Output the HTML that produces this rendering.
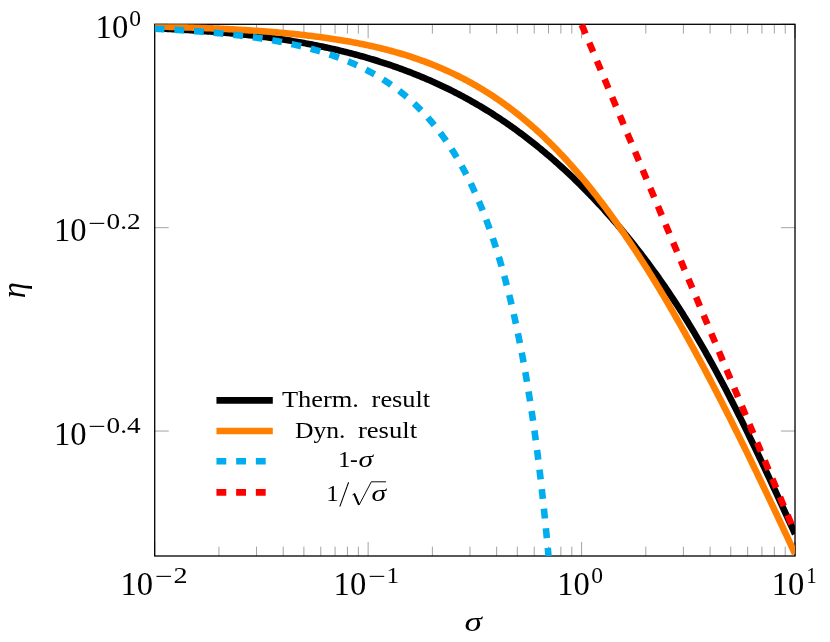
<!DOCTYPE html>
<html><head><meta charset="utf-8"><title>plot</title>
<style>
html,body{margin:0;padding:0;background:#fff;}
body{width:830px;height:642px;overflow:hidden;font-family:"Liberation Serif",serif;}
svg{display:block;will-change:transform;}
text{font-family:"Liberation Serif",serif;fill:#000;}
</style></head><body>
<svg width="830" height="642" viewBox="0 0 830 642">
<defs><clipPath id="c"><rect x="154.7" y="24.3" width="640.30" height="531.70"/></clipPath></defs>
<path d="M154.70,556.00v-14.02M154.70,24.30v14.02M218.95,556.00v-9.34M218.95,24.30v9.34M256.53,556.00v-9.34M256.53,24.30v9.34M283.20,556.00v-9.34M283.20,24.30v9.34M303.88,556.00v-9.34M303.88,24.30v9.34M320.78,556.00v-9.34M320.78,24.30v9.34M335.07,556.00v-9.34M335.07,24.30v9.34M347.45,556.00v-9.34M347.45,24.30v9.34M358.37,556.00v-9.34M358.37,24.30v9.34M368.13,556.00v-14.02M368.13,24.30v14.02M432.38,556.00v-9.34M432.38,24.30v9.34M469.97,556.00v-9.34M469.97,24.30v9.34M496.63,556.00v-9.34M496.63,24.30v9.34M517.32,556.00v-9.34M517.32,24.30v9.34M534.22,556.00v-9.34M534.22,24.30v9.34M548.51,556.00v-9.34M548.51,24.30v9.34M560.88,556.00v-9.34M560.88,24.30v9.34M571.80,556.00v-9.34M571.80,24.30v9.34M581.57,556.00v-14.02M581.57,24.30v14.02M645.82,556.00v-9.34M645.82,24.30v9.34M683.40,556.00v-9.34M683.40,24.30v9.34M710.07,556.00v-9.34M710.07,24.30v9.34M730.75,556.00v-9.34M730.75,24.30v9.34M747.65,556.00v-9.34M747.65,24.30v9.34M761.94,556.00v-9.34M761.94,24.30v9.34M774.32,556.00v-9.34M774.32,24.30v9.34M785.23,556.00v-9.34M785.23,24.30v9.34M795.00,556.00v-14.02M795.00,24.30v14.02M795.00,556.00v-14.02M795.00,24.30v14.02M154.70,24.30h14.02M795.00,24.30h-14.02M154.70,227.67h14.02M795.00,227.67h-14.02M154.70,431.05h14.02M795.00,431.05h-14.02" stroke="#737373" stroke-width="0.66" fill="none"/>
<rect x="154.7" y="24.3" width="640.30" height="531.70" fill="none" stroke="#000" stroke-width="1.31"/>
<g clip-path="url(#c)" fill="none" stroke-linejoin="round">
<path d="M154.70,28.28 L156.30,28.35 L157.91,28.42 L159.51,28.50 L161.12,28.58 L162.72,28.65 L164.33,28.73 L165.93,28.81 L167.54,28.89 L169.14,28.98 L170.75,29.06 L172.35,29.14 L173.96,29.23 L175.56,29.32 L177.17,29.40 L178.77,29.49 L180.38,29.58 L181.98,29.67 L183.59,29.77 L185.19,29.86 L186.80,29.96 L188.40,30.05 L190.00,30.15 L191.61,30.25 L193.21,30.35 L194.82,30.46 L196.42,30.56 L198.03,30.67 L199.63,30.78 L201.24,30.89 L202.84,31.00 L204.45,31.11 L206.05,31.23 L207.66,31.35 L209.26,31.47 L210.87,31.59 L212.47,31.71 L214.08,31.84 L215.68,31.96 L217.29,32.09 L218.89,32.22 L220.50,32.36 L222.10,32.49 L223.70,32.63 L225.31,32.77 L226.91,32.92 L228.52,33.06 L230.12,33.21 L231.73,33.36 L233.33,33.51 L234.94,33.67 L236.54,33.82 L238.15,33.98 L239.75,34.14 L241.36,34.31 L242.96,34.48 L244.57,34.65 L246.17,34.82 L247.78,35.00 L249.38,35.17 L250.99,35.35 L252.59,35.54 L254.20,35.73 L255.80,35.91 L257.40,36.11 L259.01,36.30 L260.61,36.50 L262.22,36.70 L263.82,36.91 L265.43,37.11 L267.03,37.32 L268.64,37.54 L270.24,37.75 L271.85,37.97 L273.45,38.20 L275.06,38.42 L276.66,38.65 L278.27,38.88 L279.87,39.12 L281.48,39.36 L283.08,39.60 L284.69,39.85 L286.29,40.10 L287.90,40.35 L289.50,40.60 L291.10,40.86 L292.71,41.13 L294.31,41.39 L295.92,41.67 L297.52,41.94 L299.13,42.22 L300.73,42.50 L302.34,42.78 L303.94,43.07 L305.55,43.37 L307.15,43.66 L308.76,43.96 L310.36,44.27 L311.97,44.57 L313.57,44.89 L315.18,45.20 L316.78,45.52 L318.39,45.85 L319.99,46.18 L321.60,46.51 L323.20,46.84 L324.80,47.19 L326.41,47.53 L328.01,47.88 L329.62,48.23 L331.22,48.59 L332.83,48.95 L334.43,49.32 L336.04,49.69 L337.64,50.07 L339.25,50.45 L340.85,50.83 L342.46,51.22 L344.06,51.61 L345.67,52.01 L347.27,52.41 L348.88,52.82 L350.48,53.23 L352.09,53.65 L353.69,54.07 L355.30,54.50 L356.90,54.93 L358.50,55.37 L360.11,55.81 L361.71,56.25 L363.32,56.71 L364.92,57.16 L366.53,57.62 L368.13,58.09 L369.74,58.56 L371.34,59.04 L372.95,59.52 L374.55,60.01 L376.16,60.50 L377.76,61.00 L379.37,61.51 L380.97,62.02 L382.58,62.53 L384.18,63.05 L385.79,63.58 L387.39,64.11 L389.00,64.65 L390.60,65.19 L392.20,65.74 L393.81,66.30 L395.41,66.86 L397.02,67.43 L398.62,68.00 L400.23,68.58 L401.83,69.17 L403.44,69.76 L405.04,70.36 L406.65,70.96 L408.25,71.57 L409.86,72.19 L411.46,72.81 L413.07,73.44 L414.67,74.08 L416.28,74.72 L417.88,75.37 L419.49,76.02 L421.09,76.69 L422.70,77.36 L424.30,78.03 L425.90,78.71 L427.51,79.40 L429.11,80.10 L430.72,80.81 L432.32,81.52 L433.93,82.23 L435.53,82.96 L437.14,83.69 L438.74,84.43 L440.35,85.18 L441.95,85.93 L443.56,86.70 L445.16,87.47 L446.77,88.24 L448.37,89.03 L449.98,89.82 L451.58,90.62 L453.19,91.43 L454.79,92.25 L456.40,93.07 L458.00,93.90 L459.60,94.74 L461.21,95.59 L462.81,96.45 L464.42,97.31 L466.02,98.19 L467.63,99.07 L469.23,99.96 L470.84,100.86 L472.44,101.77 L474.05,102.68 L475.65,103.61 L477.26,104.54 L478.86,105.48 L480.47,106.43 L482.07,107.39 L483.68,108.36 L485.28,109.34 L486.89,110.33 L488.49,111.32 L490.10,112.33 L491.70,113.34 L493.30,114.37 L494.91,115.40 L496.51,116.44 L498.12,117.50 L499.72,118.56 L501.33,119.63 L502.93,120.71 L504.54,121.80 L506.14,122.90 L507.75,124.01 L509.35,125.13 L510.96,126.26 L512.56,127.39 L514.17,128.54 L515.77,129.70 L517.38,130.87 L518.98,132.05 L520.59,133.24 L522.19,134.43 L523.80,135.64 L525.40,136.86 L527.00,138.09 L528.61,139.33 L530.21,140.58 L531.82,141.84 L533.42,143.10 L535.03,144.38 L536.63,145.67 L538.24,146.97 L539.84,148.28 L541.45,149.60 L543.05,150.93 L544.66,152.27 L546.26,153.63 L547.87,154.99 L549.47,156.36 L551.08,157.74 L552.68,159.14 L554.29,160.54 L555.89,161.96 L557.50,163.38 L559.10,164.82 L560.70,166.27 L562.31,167.72 L563.91,169.19 L565.52,170.67 L567.12,172.17 L568.73,173.67 L570.33,175.18 L571.94,176.71 L573.54,178.24 L575.15,179.79 L576.75,181.35 L578.36,182.92 L579.96,184.50 L581.57,186.09 L583.17,187.70 L584.78,189.32 L586.38,190.94 L587.99,192.59 L589.59,194.24 L591.20,195.90 L592.80,197.58 L594.40,199.27 L596.01,200.97 L597.61,202.68 L599.22,204.40 L600.82,206.14 L602.43,207.89 L604.03,209.65 L605.64,211.43 L607.24,213.21 L608.85,215.02 L610.45,216.83 L612.06,218.65 L613.66,220.49 L615.27,222.35 L616.87,224.21 L618.48,226.09 L620.08,227.98 L621.69,229.89 L623.29,231.81 L624.90,233.74 L626.50,235.69 L628.10,237.65 L629.71,239.62 L631.31,241.61 L632.92,243.62 L634.52,245.64 L636.13,247.67 L637.73,249.72 L639.34,251.78 L640.94,253.86 L642.55,255.95 L644.15,258.06 L645.76,260.19 L647.36,262.33 L648.97,264.49 L650.57,266.66 L652.18,268.85 L653.78,271.06 L655.39,273.28 L656.99,275.52 L658.60,277.78 L660.20,280.05 L661.80,282.34 L663.41,284.65 L665.01,286.98 L666.62,289.33 L668.22,291.70 L669.83,294.08 L671.43,296.48 L673.04,298.90 L674.64,301.34 L676.25,303.81 L677.85,306.28 L679.46,308.78 L681.06,311.30 L682.67,313.84 L684.27,316.40 L685.88,318.98 L687.48,321.58 L689.09,324.19 L690.69,326.83 L692.30,329.49 L693.90,332.17 L695.50,334.87 L697.11,337.58 L698.71,340.32 L700.32,343.08 L701.92,345.86 L703.53,348.65 L705.13,351.47 L706.74,354.31 L708.34,357.16 L709.95,360.04 L711.55,362.93 L713.16,365.85 L714.76,368.78 L716.37,371.73 L717.97,374.70 L719.58,377.69 L721.18,380.70 L722.79,383.72 L724.39,386.77 L726.00,389.83 L727.60,392.91 L729.20,396.00 L730.81,399.12 L732.41,402.25 L734.02,405.39 L735.62,408.55 L737.23,411.73 L738.83,414.93 L740.44,418.14 L742.04,421.36 L743.65,424.60 L745.25,427.85 L746.86,431.12 L748.46,434.40 L750.07,437.70 L751.67,441.00 L753.28,444.33 L754.88,447.66 L756.49,451.00 L758.09,454.36 L759.70,457.73 L761.30,461.11 L762.90,464.50 L764.51,467.90 L766.11,471.31 L767.72,474.74 L769.32,478.17 L770.93,481.61 L772.53,485.05 L774.14,488.51 L775.74,491.98 L777.35,495.45 L778.95,498.93 L780.56,502.41 L782.16,505.90 L783.77,509.40 L785.37,512.90 L786.98,516.41 L788.58,519.93 L790.19,523.44 L791.79,526.97 L793.40,530.49 L795.00,534.02" stroke="#000" stroke-width="6.57"/>
<path d="M154.70,26.50 L156.30,26.54 L157.91,26.57 L159.51,26.61 L161.12,26.65 L162.72,26.69 L164.33,26.74 L165.93,26.78 L167.54,26.82 L169.14,26.87 L170.75,26.91 L172.35,26.96 L173.96,27.00 L175.56,27.05 L177.17,27.10 L178.77,27.14 L180.38,27.19 L181.98,27.24 L183.59,27.30 L185.19,27.35 L186.80,27.40 L188.40,27.45 L190.00,27.51 L191.61,27.56 L193.21,27.62 L194.82,27.68 L196.42,27.74 L198.03,27.80 L199.63,27.86 L201.24,27.92 L202.84,27.98 L204.45,28.04 L206.05,28.11 L207.66,28.18 L209.26,28.24 L210.87,28.31 L212.47,28.38 L214.08,28.45 L215.68,28.52 L217.29,28.60 L218.89,28.67 L220.50,28.75 L222.10,28.82 L223.70,28.90 L225.31,28.98 L226.91,29.06 L228.52,29.14 L230.12,29.23 L231.73,29.31 L233.33,29.40 L234.94,29.49 L236.54,29.58 L238.15,29.67 L239.75,29.76 L241.36,29.85 L242.96,29.95 L244.57,30.05 L246.17,30.15 L247.78,30.25 L249.38,30.35 L250.99,30.45 L252.59,30.56 L254.20,30.67 L255.80,30.78 L257.40,30.89 L259.01,31.00 L260.61,31.12 L262.22,31.23 L263.82,31.35 L265.43,31.47 L267.03,31.60 L268.64,31.72 L270.24,31.85 L271.85,31.98 L273.45,32.11 L275.06,32.24 L276.66,32.38 L278.27,32.52 L279.87,32.66 L281.48,32.80 L283.08,32.95 L284.69,33.10 L286.29,33.25 L287.90,33.40 L289.50,33.56 L291.10,33.72 L292.71,33.88 L294.31,34.04 L295.92,34.21 L297.52,34.38 L299.13,34.55 L300.73,34.72 L302.34,34.90 L303.94,35.08 L305.55,35.26 L307.15,35.45 L308.76,35.64 L310.36,35.83 L311.97,36.03 L313.57,36.23 L315.18,36.43 L316.78,36.64 L318.39,36.85 L319.99,37.06 L321.60,37.28 L323.20,37.50 L324.80,37.72 L326.41,37.95 L328.01,38.18 L329.62,38.41 L331.22,38.65 L332.83,38.89 L334.43,39.14 L336.04,39.39 L337.64,39.65 L339.25,39.90 L340.85,40.17 L342.46,40.43 L344.06,40.71 L345.67,40.98 L347.27,41.26 L348.88,41.55 L350.48,41.84 L352.09,42.13 L353.69,42.43 L355.30,42.73 L356.90,43.04 L358.50,43.36 L360.11,43.67 L361.71,44.00 L363.32,44.33 L364.92,44.66 L366.53,45.00 L368.13,45.35 L369.74,45.70 L371.34,46.05 L372.95,46.41 L374.55,46.78 L376.16,47.15 L377.76,47.53 L379.37,47.92 L380.97,48.31 L382.58,48.70 L384.18,49.11 L385.79,49.52 L387.39,49.93 L389.00,50.35 L390.60,50.78 L392.20,51.22 L393.81,51.66 L395.41,52.11 L397.02,52.57 L398.62,53.03 L400.23,53.50 L401.83,53.98 L403.44,54.46 L405.04,54.95 L406.65,55.45 L408.25,55.96 L409.86,56.47 L411.46,56.99 L413.07,57.52 L414.67,58.06 L416.28,58.61 L417.88,59.16 L419.49,59.73 L421.09,60.30 L422.70,60.88 L424.30,61.46 L425.90,62.06 L427.51,62.67 L429.11,63.28 L430.72,63.90 L432.32,64.53 L433.93,65.18 L435.53,65.83 L437.14,66.49 L438.74,67.16 L440.35,67.84 L441.95,68.52 L443.56,69.22 L445.16,69.93 L446.77,70.65 L448.37,71.38 L449.98,72.12 L451.58,72.87 L453.19,73.63 L454.79,74.40 L456.40,75.18 L458.00,75.97 L459.60,76.78 L461.21,77.59 L462.81,78.42 L464.42,79.25 L466.02,80.10 L467.63,80.96 L469.23,81.83 L470.84,82.71 L472.44,83.61 L474.05,84.51 L475.65,85.43 L477.26,86.36 L478.86,87.31 L480.47,88.26 L482.07,89.23 L483.68,90.21 L485.28,91.20 L486.89,92.21 L488.49,93.23 L490.10,94.26 L491.70,95.30 L493.30,96.36 L494.91,97.43 L496.51,98.52 L498.12,99.61 L499.72,100.73 L501.33,101.85 L502.93,102.99 L504.54,104.14 L506.14,105.31 L507.75,106.49 L509.35,107.69 L510.96,108.90 L512.56,110.12 L514.17,111.36 L515.77,112.61 L517.38,113.88 L518.98,115.16 L520.59,116.46 L522.19,117.77 L523.80,119.10 L525.40,120.44 L527.00,121.79 L528.61,123.17 L530.21,124.55 L531.82,125.96 L533.42,127.38 L535.03,128.81 L536.63,130.26 L538.24,131.72 L539.84,133.20 L541.45,134.70 L543.05,136.21 L544.66,137.74 L546.26,139.28 L547.87,140.84 L549.47,142.42 L551.08,144.01 L552.68,145.62 L554.29,147.24 L555.89,148.88 L557.50,150.54 L559.10,152.21 L560.70,153.90 L562.31,155.61 L563.91,157.33 L565.52,159.07 L567.12,160.82 L568.73,162.59 L570.33,164.38 L571.94,166.18 L573.54,168.00 L575.15,169.84 L576.75,171.69 L578.36,173.56 L579.96,175.45 L581.57,177.35 L583.17,179.27 L584.78,181.21 L586.38,183.16 L587.99,185.13 L589.59,187.12 L591.20,189.12 L592.80,191.14 L594.40,193.17 L596.01,195.23 L597.61,197.29 L599.22,199.38 L600.82,201.48 L602.43,203.60 L604.03,205.73 L605.64,207.88 L607.24,210.05 L608.85,212.23 L610.45,214.43 L612.06,216.64 L613.66,218.88 L615.27,221.12 L616.87,223.39 L618.48,225.66 L620.08,227.96 L621.69,230.27 L623.29,232.60 L624.90,234.94 L626.50,237.30 L628.10,239.67 L629.71,242.06 L631.31,244.46 L632.92,246.88 L634.52,249.32 L636.13,251.77 L637.73,254.24 L639.34,256.72 L640.94,259.21 L642.55,261.72 L644.15,264.25 L645.76,266.79 L647.36,269.35 L648.97,271.92 L650.57,274.50 L652.18,277.10 L653.78,279.71 L655.39,282.34 L656.99,284.98 L658.60,287.64 L660.20,290.31 L661.80,292.99 L663.41,295.69 L665.01,298.40 L666.62,301.13 L668.22,303.86 L669.83,306.62 L671.43,309.38 L673.04,312.16 L674.64,314.95 L676.25,317.75 L677.85,320.57 L679.46,323.40 L681.06,326.24 L682.67,329.10 L684.27,331.97 L685.88,334.85 L687.48,337.74 L689.09,340.64 L690.69,343.56 L692.30,346.49 L693.90,349.43 L695.50,352.38 L697.11,355.34 L698.71,358.32 L700.32,361.30 L701.92,364.30 L703.53,367.31 L705.13,370.33 L706.74,373.36 L708.34,376.40 L709.95,379.45 L711.55,382.52 L713.16,385.59 L714.76,388.67 L716.37,391.77 L717.97,394.87 L719.58,397.99 L721.18,401.11 L722.79,404.24 L724.39,407.39 L726.00,410.54 L727.60,413.70 L729.20,416.88 L730.81,420.06 L732.41,423.25 L734.02,426.45 L735.62,429.66 L737.23,432.87 L738.83,436.10 L740.44,439.34 L742.04,442.58 L743.65,445.83 L745.25,449.09 L746.86,452.36 L748.46,455.64 L750.07,458.92 L751.67,462.21 L753.28,465.51 L754.88,468.82 L756.49,472.14 L758.09,475.46 L759.70,478.79 L761.30,482.13 L762.90,485.48 L764.51,488.83 L766.11,492.19 L767.72,495.56 L769.32,498.93 L770.93,502.31 L772.53,505.70 L774.14,509.09 L775.74,512.49 L777.35,515.90 L778.95,519.31 L780.56,522.73 L782.16,526.16 L783.77,529.59 L785.37,533.03 L786.98,536.47 L788.58,539.92 L790.19,543.38 L791.79,546.84 L793.40,550.31 L795.00,553.78" stroke="#ff8000" stroke-width="6.57"/>
<path d="M154.70,28.74 L155.72,28.79 L156.74,28.84 L157.75,28.89 L158.77,28.94 L159.79,28.99 L160.81,29.04 L161.83,29.10 L162.84,29.15 L163.86,29.20 L164.88,29.26 L165.90,29.31 L166.92,29.37 L167.93,29.42 L168.95,29.48 L169.97,29.54 L170.99,29.60 L172.01,29.66 L173.02,29.71 L174.04,29.77 L175.06,29.84 L176.08,29.90 L177.10,29.96 L178.11,30.02 L179.13,30.09 L180.15,30.15 L181.17,30.22 L182.19,30.28 L183.20,30.35 L184.22,30.41 L185.24,30.48 L186.26,30.55 L187.28,30.62 L188.29,30.69 L189.31,30.76 L190.33,30.83 L191.35,30.91 L192.37,30.98 L193.38,31.05 L194.40,31.13 L195.42,31.21 L196.44,31.28 L197.46,31.36 L198.47,31.44 L199.49,31.52 L200.51,31.60 L201.53,31.68 L202.55,31.76 L203.56,31.85 L204.58,31.93 L205.60,32.01 L206.62,32.10 L207.64,32.19 L208.65,32.28 L209.67,32.36 L210.69,32.45 L211.71,32.55 L212.73,32.64 L213.74,32.73 L214.76,32.82 L215.78,32.92 L216.80,33.02 L217.82,33.11 L218.83,33.21 L219.85,33.31 L220.87,33.41 L221.89,33.51 L222.91,33.62 L223.92,33.72 L224.94,33.82 L225.96,33.93 L226.98,34.04 L228.00,34.15 L229.01,34.26 L230.03,34.37 L231.05,34.48 L232.07,34.59 L233.09,34.71 L234.10,34.83 L235.12,34.94 L236.14,35.06 L237.16,35.18 L238.18,35.30 L239.19,35.43 L240.21,35.55 L241.23,35.68 L242.25,35.80 L243.27,35.93 L244.28,36.06 L245.30,36.20 L246.32,36.33 L247.34,36.46 L248.36,36.60 L249.37,36.74 L250.39,36.88 L251.41,37.02 L252.43,37.16 L253.45,37.30 L254.46,37.45 L255.48,37.60 L256.50,37.75 L257.52,37.90 L258.54,38.05 L259.55,38.20 L260.57,38.36 L261.59,38.52 L262.61,38.68 L263.63,38.84 L264.64,39.00 L265.66,39.17 L266.68,39.33 L267.70,39.50 L268.72,39.67 L269.73,39.85 L270.75,40.02 L271.77,40.20 L272.79,40.38 L273.81,40.56 L274.82,40.74 L275.84,40.93 L276.86,41.11 L277.88,41.30 L278.90,41.49 L279.91,41.69 L280.93,41.88 L281.95,42.08 L282.97,42.28 L283.99,42.48 L285.00,42.69 L286.02,42.90 L287.04,43.11 L288.06,43.32 L289.08,43.53 L290.09,43.75 L291.11,43.97 L292.13,44.19 L293.15,44.42 L294.17,44.64 L295.18,44.87 L296.20,45.11 L297.22,45.34 L298.24,45.58 L299.26,45.82 L300.27,46.07 L301.29,46.31 L302.31,46.56 L303.33,46.81 L304.35,47.07 L305.36,47.33 L306.38,47.59 L307.40,47.85 L308.42,48.12 L309.44,48.39 L310.45,48.66 L311.47,48.94 L312.49,49.22 L313.51,49.50 L314.53,49.79 L315.54,50.08 L316.56,50.37 L317.58,50.67 L318.60,50.97 L319.62,51.27 L320.63,51.58 L321.65,51.89 L322.67,52.21 L323.69,52.52 L324.71,52.85 L325.72,53.17 L326.74,53.50 L327.76,53.83 L328.78,54.17 L329.80,54.51 L330.81,54.86 L331.83,55.21 L332.85,55.56 L333.87,55.92 L334.89,56.28 L335.90,56.65 L336.92,57.02 L337.94,57.39 L338.96,57.77 L339.98,58.16 L340.99,58.55 L342.01,58.94 L343.03,59.34 L344.05,59.74 L345.07,60.15 L346.08,60.56 L347.10,60.98 L348.12,61.40 L349.14,61.83 L350.16,62.26 L351.17,62.70 L352.19,63.14 L353.21,63.59 L354.23,64.05 L355.25,64.51 L356.26,64.97 L357.28,65.44 L358.30,65.92 L359.32,66.40 L360.34,66.89 L361.35,67.38 L362.37,67.88 L363.39,68.39 L364.41,68.90 L365.43,69.42 L366.44,69.94 L367.46,70.48 L368.48,71.01 L369.50,71.56 L370.52,72.11 L371.53,72.67 L372.55,73.23 L373.57,73.80 L374.59,74.38 L375.61,74.97 L376.62,75.56 L377.64,76.16 L378.66,76.77 L379.68,77.39 L380.70,78.01 L381.71,78.64 L382.73,79.28 L383.75,79.93 L384.77,80.58 L385.79,81.25 L386.80,81.92 L387.82,82.60 L388.84,83.29 L389.86,83.98 L390.88,84.69 L391.89,85.41 L392.91,86.13 L393.93,86.86 L394.95,87.61 L395.97,88.36 L396.98,89.12 L398.00,89.89 L399.02,90.67 L400.04,91.46 L401.06,92.27 L402.07,93.08 L403.09,93.90 L404.11,94.73 L405.13,95.58 L406.15,96.43 L407.16,97.30 L408.18,98.18 L409.20,99.07 L410.22,99.97 L411.24,100.88 L412.25,101.80 L413.27,102.74 L414.29,103.69 L415.31,104.65 L416.33,105.63 L417.34,106.61 L418.36,107.61 L419.38,108.63 L420.40,109.65 L421.42,110.69 L422.43,111.75 L423.45,112.82 L424.47,113.90 L425.49,115.00 L426.51,116.11 L427.52,117.24 L428.54,118.39 L429.56,119.55 L430.58,120.72 L431.60,121.91 L432.61,123.12 L433.63,124.35 L434.65,125.59 L435.67,126.85 L436.69,128.12 L437.70,129.42 L438.72,130.73 L439.74,132.06 L440.76,133.41 L441.78,134.78 L442.79,136.17 L443.81,137.58 L444.83,139.00 L445.85,140.45 L446.87,141.92 L447.88,143.41 L448.90,144.93 L449.92,146.46 L450.94,148.02 L451.96,149.60 L452.97,151.20 L453.99,152.83 L455.01,154.48 L456.03,156.15 L457.05,157.85 L458.06,159.58 L459.08,161.33 L460.10,163.11 L461.12,164.91 L462.14,166.74 L463.15,168.60 L464.17,170.49 L465.19,172.41 L466.21,174.36 L467.23,176.34 L468.24,178.34 L469.26,180.39 L470.28,182.46 L471.30,184.56 L472.32,186.70 L473.33,188.87 L474.35,191.08 L475.37,193.33 L476.39,195.61 L477.41,197.92 L478.42,200.28 L479.44,202.67 L480.46,205.11 L481.48,207.58 L482.50,210.10 L483.51,212.65 L484.53,215.26 L485.55,217.90 L486.57,220.59 L487.59,223.33 L488.60,226.12 L489.62,228.95 L490.64,231.83 L491.66,234.77 L492.68,237.76 L493.69,240.80 L494.71,243.90 L495.73,247.05 L496.75,250.26 L497.77,253.53 L498.78,256.86 L499.80,260.25 L500.82,263.71 L501.84,267.24 L502.86,270.83 L503.87,274.49 L504.89,278.22 L505.91,282.03 L506.93,285.91 L507.95,289.87 L508.96,293.91 L509.98,298.03 L511.00,302.24 L512.02,306.53 L513.04,310.92 L514.05,315.40 L515.07,319.97 L516.09,324.64 L517.11,329.42 L518.13,334.30 L519.14,339.29 L520.16,344.40 L521.18,349.62 L522.20,354.96 L523.22,360.43 L524.23,366.03 L525.25,371.76 L526.27,377.63 L527.29,383.65 L528.31,389.82 L529.32,396.15 L530.34,402.64 L531.36,409.30 L532.38,416.14 L533.40,423.16 L534.41,430.37 L535.43,437.79 L536.45,445.42 L537.47,453.26 L538.49,461.34 L539.50,469.66 L540.52,478.24 L541.54,487.08 L542.56,496.21 L543.58,505.63 L544.59,515.36 L545.61,525.42 L546.63,535.84 L547.65,546.62 L548.67,557.80 L549.68,569.40 L550.70,581.44 L551.72,593.96 L552.74,606.99 L553.76,620.56 L554.77,634.72 L555.79,649.52 L556.81,665.00 L557.83,681.23 L558.85,698.26 L559.86,716.18 L560.88,735.06" stroke="#00adee" stroke-width="6.57" stroke-dasharray="9.85 9.85"/>
<path d="M154.70,-992.57 L156.30,-988.75 L157.91,-984.92 L159.51,-981.10 L161.12,-977.28 L162.72,-973.46 L164.33,-969.63 L165.93,-965.81 L167.54,-961.99 L169.14,-958.17 L170.75,-954.34 L172.35,-950.52 L173.96,-946.70 L175.56,-942.87 L177.17,-939.05 L178.77,-935.23 L180.38,-931.41 L181.98,-927.58 L183.59,-923.76 L185.19,-919.94 L186.80,-916.11 L188.40,-912.29 L190.00,-908.47 L191.61,-904.65 L193.21,-900.82 L194.82,-897.00 L196.42,-893.18 L198.03,-889.35 L199.63,-885.53 L201.24,-881.71 L202.84,-877.89 L204.45,-874.06 L206.05,-870.24 L207.66,-866.42 L209.26,-862.59 L210.87,-858.77 L212.47,-854.95 L214.08,-851.13 L215.68,-847.30 L217.29,-843.48 L218.89,-839.66 L220.50,-835.83 L222.10,-832.01 L223.70,-828.19 L225.31,-824.37 L226.91,-820.54 L228.52,-816.72 L230.12,-812.90 L231.73,-809.08 L233.33,-805.25 L234.94,-801.43 L236.54,-797.61 L238.15,-793.78 L239.75,-789.96 L241.36,-786.14 L242.96,-782.32 L244.57,-778.49 L246.17,-774.67 L247.78,-770.85 L249.38,-767.02 L250.99,-763.20 L252.59,-759.38 L254.20,-755.56 L255.80,-751.73 L257.40,-747.91 L259.01,-744.09 L260.61,-740.26 L262.22,-736.44 L263.82,-732.62 L265.43,-728.80 L267.03,-724.97 L268.64,-721.15 L270.24,-717.33 L271.85,-713.50 L273.45,-709.68 L275.06,-705.86 L276.66,-702.04 L278.27,-698.21 L279.87,-694.39 L281.48,-690.57 L283.08,-686.74 L284.69,-682.92 L286.29,-679.10 L287.90,-675.28 L289.50,-671.45 L291.10,-667.63 L292.71,-663.81 L294.31,-659.99 L295.92,-656.16 L297.52,-652.34 L299.13,-648.52 L300.73,-644.69 L302.34,-640.87 L303.94,-637.05 L305.55,-633.23 L307.15,-629.40 L308.76,-625.58 L310.36,-621.76 L311.97,-617.93 L313.57,-614.11 L315.18,-610.29 L316.78,-606.47 L318.39,-602.64 L319.99,-598.82 L321.60,-595.00 L323.20,-591.17 L324.80,-587.35 L326.41,-583.53 L328.01,-579.71 L329.62,-575.88 L331.22,-572.06 L332.83,-568.24 L334.43,-564.41 L336.04,-560.59 L337.64,-556.77 L339.25,-552.95 L340.85,-549.12 L342.46,-545.30 L344.06,-541.48 L345.67,-537.65 L347.27,-533.83 L348.88,-530.01 L350.48,-526.19 L352.09,-522.36 L353.69,-518.54 L355.30,-514.72 L356.90,-510.90 L358.50,-507.07 L360.11,-503.25 L361.71,-499.43 L363.32,-495.60 L364.92,-491.78 L366.53,-487.96 L368.13,-484.14 L369.74,-480.31 L371.34,-476.49 L372.95,-472.67 L374.55,-468.84 L376.16,-465.02 L377.76,-461.20 L379.37,-457.38 L380.97,-453.55 L382.58,-449.73 L384.18,-445.91 L385.79,-442.08 L387.39,-438.26 L389.00,-434.44 L390.60,-430.62 L392.20,-426.79 L393.81,-422.97 L395.41,-419.15 L397.02,-415.32 L398.62,-411.50 L400.23,-407.68 L401.83,-403.86 L403.44,-400.03 L405.04,-396.21 L406.65,-392.39 L408.25,-388.56 L409.86,-384.74 L411.46,-380.92 L413.07,-377.10 L414.67,-373.27 L416.28,-369.45 L417.88,-365.63 L419.49,-361.80 L421.09,-357.98 L422.70,-354.16 L424.30,-350.34 L425.90,-346.51 L427.51,-342.69 L429.11,-338.87 L430.72,-335.05 L432.32,-331.22 L433.93,-327.40 L435.53,-323.58 L437.14,-319.75 L438.74,-315.93 L440.35,-312.11 L441.95,-308.29 L443.56,-304.46 L445.16,-300.64 L446.77,-296.82 L448.37,-292.99 L449.98,-289.17 L451.58,-285.35 L453.19,-281.53 L454.79,-277.70 L456.40,-273.88 L458.00,-270.06 L459.60,-266.23 L461.21,-262.41 L462.81,-258.59 L464.42,-254.77 L466.02,-250.94 L467.63,-247.12 L469.23,-243.30 L470.84,-239.47 L472.44,-235.65 L474.05,-231.83 L475.65,-228.01 L477.26,-224.18 L478.86,-220.36 L480.47,-216.54 L482.07,-212.71 L483.68,-208.89 L485.28,-205.07 L486.89,-201.25 L488.49,-197.42 L490.10,-193.60 L491.70,-189.78 L493.30,-185.96 L494.91,-182.13 L496.51,-178.31 L498.12,-174.49 L499.72,-170.66 L501.33,-166.84 L502.93,-163.02 L504.54,-159.20 L506.14,-155.37 L507.75,-151.55 L509.35,-147.73 L510.96,-143.90 L512.56,-140.08 L514.17,-136.26 L515.77,-132.44 L517.38,-128.61 L518.98,-124.79 L520.59,-120.97 L522.19,-117.14 L523.80,-113.32 L525.40,-109.50 L527.00,-105.68 L528.61,-101.85 L530.21,-98.03 L531.82,-94.21 L533.42,-90.38 L535.03,-86.56 L536.63,-82.74 L538.24,-78.92 L539.84,-75.09 L541.45,-71.27 L543.05,-67.45 L544.66,-63.62 L546.26,-59.80 L547.87,-55.98 L549.47,-52.16 L551.08,-48.33 L552.68,-44.51 L554.29,-40.69 L555.89,-36.87 L557.50,-33.04 L559.10,-29.22 L560.70,-25.40 L562.31,-21.57 L563.91,-17.75 L565.52,-13.93 L567.12,-10.11 L568.73,-6.28 L570.33,-2.46 L571.94,1.36 L573.54,5.19 L575.15,9.01 L576.75,12.83 L578.36,16.65 L579.96,20.48 L581.57,24.30 L583.17,28.12 L584.78,31.95 L586.38,35.77 L587.99,39.59 L589.59,43.41 L591.20,47.24 L592.80,51.06 L594.40,54.88 L596.01,58.71 L597.61,62.53 L599.22,66.35 L600.82,70.17 L602.43,74.00 L604.03,77.82 L605.64,81.64 L607.24,85.47 L608.85,89.29 L610.45,93.11 L612.06,96.93 L613.66,100.76 L615.27,104.58 L616.87,108.40 L618.48,112.22 L620.08,116.05 L621.69,119.87 L623.29,123.69 L624.90,127.52 L626.50,131.34 L628.10,135.16 L629.71,138.98 L631.31,142.81 L632.92,146.63 L634.52,150.45 L636.13,154.28 L637.73,158.10 L639.34,161.92 L640.94,165.74 L642.55,169.57 L644.15,173.39 L645.76,177.21 L647.36,181.04 L648.97,184.86 L650.57,188.68 L652.18,192.50 L653.78,196.33 L655.39,200.15 L656.99,203.97 L658.60,207.80 L660.20,211.62 L661.80,215.44 L663.41,219.26 L665.01,223.09 L666.62,226.91 L668.22,230.73 L669.83,234.56 L671.43,238.38 L673.04,242.20 L674.64,246.02 L676.25,249.85 L677.85,253.67 L679.46,257.49 L681.06,261.31 L682.67,265.14 L684.27,268.96 L685.88,272.78 L687.48,276.61 L689.09,280.43 L690.69,284.25 L692.30,288.07 L693.90,291.90 L695.50,295.72 L697.11,299.54 L698.71,303.37 L700.32,307.19 L701.92,311.01 L703.53,314.83 L705.13,318.66 L706.74,322.48 L708.34,326.30 L709.95,330.13 L711.55,333.95 L713.16,337.77 L714.76,341.59 L716.37,345.42 L717.97,349.24 L719.58,353.06 L721.18,356.89 L722.79,360.71 L724.39,364.53 L726.00,368.35 L727.60,372.18 L729.20,376.00 L730.81,379.82 L732.41,383.65 L734.02,387.47 L735.62,391.29 L737.23,395.11 L738.83,398.94 L740.44,402.76 L742.04,406.58 L743.65,410.40 L745.25,414.23 L746.86,418.05 L748.46,421.87 L750.07,425.70 L751.67,429.52 L753.28,433.34 L754.88,437.16 L756.49,440.99 L758.09,444.81 L759.70,448.63 L761.30,452.46 L762.90,456.28 L764.51,460.10 L766.11,463.92 L767.72,467.75 L769.32,471.57 L770.93,475.39 L772.53,479.22 L774.14,483.04 L775.74,486.86 L777.35,490.68 L778.95,494.51 L780.56,498.33 L782.16,502.15 L783.77,505.98 L785.37,509.80 L786.98,513.62 L788.58,517.44 L790.19,521.27 L791.79,525.09 L793.40,528.91 L795.00,532.74" stroke="#ff0000" stroke-width="6.57" stroke-dasharray="9.85 9.85"/>
</g>

<path d="M216.45,400.4H272.8" stroke="#000" stroke-width="6.57"/>
<path d="M216.45,431.0H272.8" stroke="#ff8000" stroke-width="6.57"/>
<path d="M216.45,461.2H272.8" stroke="#00adee" stroke-width="6.57" stroke-dasharray="9.85 9.85"/>
<path d="M216.45,492.4H272.8" stroke="#ff0000" stroke-width="6.57" stroke-dasharray="9.85 9.85"/>
<text x="281.90" y="407.10" font-size="23.80" textLength="77.00" lengthAdjust="spacingAndGlyphs">Therm.</text><text x="371.60" y="407.10" font-size="23.80" textLength="58.60" lengthAdjust="spacingAndGlyphs">result</text><text x="294.90" y="437.50" font-size="23.80" textLength="50.60" lengthAdjust="spacingAndGlyphs">Dyn.</text><text x="357.90" y="437.50" font-size="23.80" textLength="59.20" lengthAdjust="spacingAndGlyphs">result</text><text x="338.00" y="466.90" font-size="23.80" textLength="12.50" lengthAdjust="spacingAndGlyphs">1</text><text x="350.00" y="466.90" font-size="23.80" textLength="7.80" lengthAdjust="spacingAndGlyphs">-</text><text x="358.60" y="466.90" font-size="23.80" font-style="italic" textLength="14.60" lengthAdjust="spacingAndGlyphs">σ</text><text x="326.30" y="501.00" font-size="23.80" textLength="12.50" lengthAdjust="spacingAndGlyphs">1</text><text x="371.50" y="501.00" font-size="23.80" font-style="italic" textLength="14.60" lengthAdjust="spacingAndGlyphs">σ</text><path d="M339.8,506.6 L348.6,482.3" fill="none" stroke="#000" stroke-width="1.05"/><path d="M352.5,494.9 L354.6,493.5 L359.3,504.6 L371.3,481.8 H386.0" fill="none" stroke="#000" stroke-width="0.95" stroke-linejoin="miter"/><path d="M354.2,493.9 L358.9,505.0" fill="none" stroke="#000" stroke-width="1.9"/>
<text x="95.60" y="37.90" font-size="32.84" textLength="32.60" lengthAdjust="spacingAndGlyphs">10</text><text x="129.20" y="26.00" font-size="22.99" textLength="11.80" lengthAdjust="spacingAndGlyphs">0</text><text x="54.00" y="241.20" font-size="32.84" textLength="32.60" lengthAdjust="spacingAndGlyphs">10</text><text x="88.30" y="230.60" font-size="22.99" textLength="17.60" lengthAdjust="spacingAndGlyphs">−</text><text x="106.60" y="229.30" font-size="22.99" textLength="34.10" lengthAdjust="spacingAndGlyphs">0.2</text><text x="54.00" y="444.60" font-size="32.84" textLength="32.60" lengthAdjust="spacingAndGlyphs">10</text><text x="88.30" y="434.00" font-size="22.99" textLength="17.60" lengthAdjust="spacingAndGlyphs">−</text><text x="106.60" y="432.70" font-size="22.99" textLength="34.10" lengthAdjust="spacingAndGlyphs">0.4</text><text x="120.50" y="595.30" font-size="32.84" textLength="32.60" lengthAdjust="spacingAndGlyphs">10</text><text x="155.10" y="584.00" font-size="22.99" textLength="17.60" lengthAdjust="spacingAndGlyphs">−</text><text x="173.40" y="582.70" font-size="22.99" textLength="14.10" lengthAdjust="spacingAndGlyphs">2</text><text x="333.60" y="595.30" font-size="32.84" textLength="32.60" lengthAdjust="spacingAndGlyphs">10</text><text x="368.20" y="584.00" font-size="22.99" textLength="17.60" lengthAdjust="spacingAndGlyphs">−</text><text x="386.50" y="582.70" font-size="22.99" textLength="12.60" lengthAdjust="spacingAndGlyphs">1</text><text x="557.30" y="595.30" font-size="32.84" textLength="32.60" lengthAdjust="spacingAndGlyphs">10</text><text x="591.20" y="582.70" font-size="22.99" textLength="11.80" lengthAdjust="spacingAndGlyphs">0</text><text x="771.80" y="595.30" font-size="32.84" textLength="32.60" lengthAdjust="spacingAndGlyphs">10</text><text x="806.30" y="582.70" font-size="22.99" textLength="10.50" lengthAdjust="spacingAndGlyphs">1</text>
<text x="464.4" y="631.2" font-size="27.4" font-style="italic" textLength="17.4" lengthAdjust="spacingAndGlyphs">σ</text>
<text transform="translate(25.2,298.2) rotate(-90)" font-size="32.84" font-style="italic" textLength="16" lengthAdjust="spacingAndGlyphs">η</text>
</svg>
</body></html>
